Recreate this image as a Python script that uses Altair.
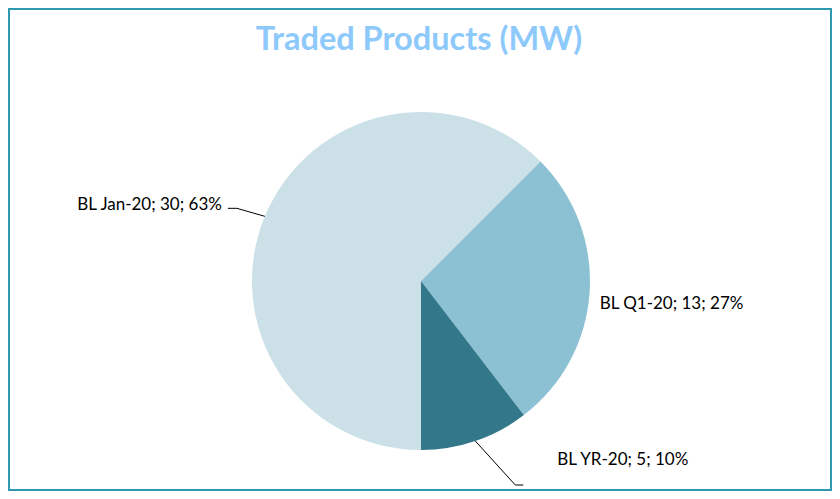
import math
import altair as alt
import pandas as pd

# ---- data ----
categories = ["BL Jan-20", "BL Q1-20", "BL YR-20"]
values = [30, 13, 5]
colors = ["#CCE0E8", "#8BC1D3", "#33788A"]
title_text = "Traded Products (MW)"

# ---- layout (pixels in plot coordinates) ----
W, H, TOP = 824, 423, 60
CX, CY, R = 413, 213, 169
label_layout = {
    "BL Jan-20": dict(path=[(-28, -8), (-37, -8)], text=(-6, 2), align="right"),
    "BL Q1-20": dict(path=[], text=(10, 17), align="left"),
    "BL YR-20": dict(path=[(40, 44), (48, 44)], text=(34, -20), align="left"),
}
FONT = "Lato"

total = sum(values)
slices, labels, leaders = [], [], []
cum = 0
for i, (c, v) in enumerate(zip(categories, values)):
    mid = math.pi + 2 * math.pi * (cum + v / 2) / total
    cum += v
    pct = int(100 * v / total + 0.5)
    slices.append({"category": c, "value": v, "idx": i})
    ex, ey = CX + R * math.sin(mid), CY - R * math.cos(mid)
    lay = label_layout[c]
    px, py = ex, ey
    if lay["path"]:
        leaders.append({"category": c, "k": 0, "x": ex, "y": ey})
        for k, (dx, dy) in enumerate(lay["path"], start=1):
            px, py = ex + dx, ey + dy
            leaders.append({"category": c, "k": k, "x": px, "y": py})
    labels.append({
        "category": c,
        "label": f"{c}; {v}; {pct}%",
        "x": px + lay["text"][0],
        "y": py + lay["text"][1],
        "align": lay["align"],
    })

df_s = pd.DataFrame(slices)
df_l = pd.DataFrame(labels)
df_d = pd.DataFrame(leaders)
df_t = pd.DataFrame({"t": [title_text], "x": [W / 2 - 1], "y": [-18.5]})

xs = alt.Scale(domain=[0, W], range=[0, W])
ys = alt.Scale(domain=[0, H], range=[0, H])
noax = None

pie = alt.Chart(df_s).mark_arc(outerRadius=R).encode(
    theta=alt.Theta("value:Q", stack=True, scale=alt.Scale(range=[math.pi, 3 * math.pi])),
    color=alt.Color("category:N", scale=alt.Scale(domain=categories, range=colors), legend=None),
    order=alt.Order("idx:Q"),
    x=alt.value(CX),
    y=alt.value(CY),
)

lines = alt.Chart(df_d).mark_line(color="#000000", strokeWidth=1).encode(
    x=alt.X("x:Q", scale=xs, axis=noax),
    y=alt.Y("y:Q", scale=ys, axis=noax),
    detail="category:N",
    order="k:Q",
)

def label_layer(al):
    return alt.Chart(df_l).transform_filter(f"datum.align == '{al}'").mark_text(
        align=al, baseline="alphabetic", font=FONT, fontSize=17, color="#000000"
    ).encode(
        x=alt.X("x:Q", scale=xs, axis=noax),
        y=alt.Y("y:Q", scale=ys, axis=noax),
        text="label:N",
    )

title = alt.Chart(df_t).mark_text(
    align="center", baseline="alphabetic", font=FONT, fontSize=32.5,
    fontWeight="bold", color="#8DC9FB",
).encode(
    x=alt.X("x:Q", scale=xs, axis=noax),
    y=alt.Y("y:Q", scale=ys, axis=noax),
    text="t:N",
)

border = alt.Chart(pd.DataFrame({"a": [0]})).mark_rect(
    filled=False, stroke="#2E9AB2", strokeWidth=2
).encode(
    x=alt.value(1), x2=alt.value(W - 1), y=alt.value(-TOP + 1), y2=alt.value(H - 1)
)

chart = alt.layer(pie, lines, label_layer("right"), label_layer("left"), title, border).properties(
    width=W,
    height=H,
    padding={"left": 0, "right": 0, "top": TOP, "bottom": 0},
    autosize="none",
    background="#FFFFFF",
).configure_view(stroke=None)

chart.save("out.html", embed_options={"renderer": "svg", "actions": False})
